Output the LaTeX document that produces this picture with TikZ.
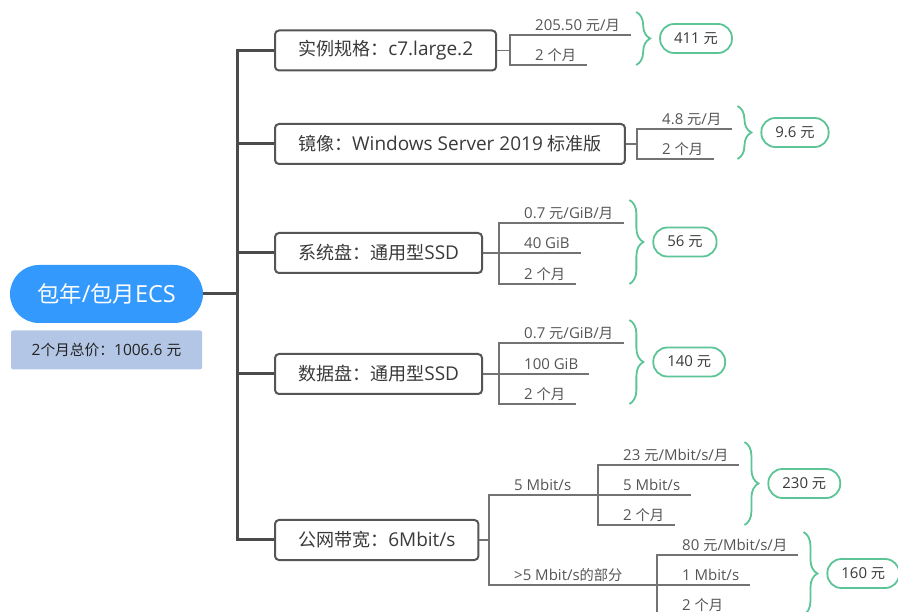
\documentclass[tikz,border=0pt]{standalone}
\usepackage{fontspec}
\setmainfont{Open Sans}
\newfontfamily\latinfont{Open Sans}
\newfontfamily\cjkfont{Noto Sans CJK SC}[Scale=0.95]
\usepackage{tikz}
\usetikzlibrary{positioning, decorations.pathreplacing}
% CJK characters switch to the CJK face, Latin ones switch back
\XeTeXinterchartokenstate=1
\chardef\cjkclass=7
\newcount\cjkcnt
\cjkcnt="4E00
\loop
  \XeTeXcharclass\cjkcnt=\cjkclass
  \advance\cjkcnt by 1
\ifnum\cjkcnt<"A000 \repeat
\XeTeXcharclass"FF1A=\cjkclass
\XeTeXinterchartoks 0 \cjkclass={\cjkfont}
\XeTeXinterchartoks 4095 \cjkclass={\cjkfont}
\XeTeXinterchartoks \cjkclass 0={\latinfont}
\XeTeXinterchartoks \cjkclass 4095={\latinfont}
\definecolor{rootblue}{RGB}{52, 153, 252}
\definecolor{sumfill}{RGB}{180, 198, 230}
\definecolor{sumtext}{RGB}{34, 34, 34}
\definecolor{spinegray}{RGB}{75, 75, 75}
\definecolor{boxgray}{RGB}{85, 85, 85}
\definecolor{topictext}{RGB}{58, 58, 58}
\definecolor{twiggray}{RGB}{115, 115, 115}
\definecolor{leaftext}{RGB}{85, 85, 85}
\definecolor{sumgreen}{RGB}{92, 196, 150}

\begin{document}
\begin{tikzpicture}[
		x=1pt, y=-1pt,
		rootpill/.style={rectangle, fill=rootblue, text=white, rounded corners=29pt, minimum width=193pt, minimum height=58pt, inner sep=0pt, font=\fontsize{23.5}{28}\selectfont},
		sumbox/.style={rectangle, fill=sumfill, text=sumtext, rounded corners=2pt, minimum width=191pt, minimum height=39pt, inner sep=0pt, font=\fontsize{15.5}{18}\selectfont},
		topic/.style={rectangle, draw=boxgray, fill=white, line width=2pt, rounded corners=4pt, minimum height=40pt, inner xsep=23pt, anchor=west, text=topictext, font=\fontsize{19}{22}\selectfont},
		leaf/.style={anchor=south west, inner xsep=11pt, inner ysep=1pt, text depth=3pt, text=leaftext, font=\fontsize{15}{18}\selectfont},
		sumpill/.style={rectangle, draw=sumgreen, fill=white, line width=1.8pt, rounded corners=14pt, minimum height=29pt, inner xsep=14pt, text=topictext, font=\fontsize{15}{18}\selectfont},
		trunk/.style={draw=spinegray, line width=3pt},
		twig/.style={draw=twiggray, line width=1.3pt},
		pricebrace/.style={draw=sumgreen, line width=1.8pt, decorate, decoration={brace, amplitude=14pt}}
		]
		\useasboundingbox (0,0) rectangle (898,612);
		\clip (0,0) rectangle (898,612);

		\node[rootpill] (root) at (106.5,294) {包年/包月ECS};
		\node[sumbox, below=7pt of root] (total) {2个月总价：1006.6 元};

		\node[topic] (spec) at (274,50.5) {实例规格：c7.large.2};
		\node[topic] (image) at (274,144) {镜像：Windows Server 2019 标准版};
		\node[topic] (sysdisk) at (274,253) {系统盘：通用型SSD};
		\node[topic] (datadisk) at (274,374) {数据盘：通用型SSD};
		\node[topic] (bw) at (274,540) {公网带宽：6Mbit/s};

		\coordinate (fork) at (237,294);
		\draw[trunk] (root.east) -- (fork);
		\draw[trunk] (fork) |- (spec.west);
		\draw[trunk] (fork) |- (image.west);
		\draw[trunk] (fork) |- (sysdisk.west);
		\draw[trunk] (fork) |- (datadisk.west);
		\draw[trunk] (fork) |- (bw.west);

		% instance
		\coordinate (specj) at (510,50.5);
		\node[leaf] (spec1) at (524,35) {205.50 元/月};
		\node[leaf] (spec2) at (524,65) {2 个月};
		\draw[twig] (spec.east) -- (specj);
		\draw[twig] (specj) |- (spec1.south east);
		\draw[twig] (specj) |- (spec2.south east);
		\coordinate (specbt) at ([shift={(5pt,23pt)}]spec1.south east);
		\coordinate (specbb) at (specbt |- spec2.south);
		\draw[pricebrace] (specbt) -- (specbb);
		\path (specbt) -- (specbb) node[sumpill, midway, right=23pt] (specsum) {411 元};

		% image
		\coordinate (imagej) at (637,144);
		\node[leaf] (image1) at (651,129) {4.8 元/月};
		\node[leaf] (image2) at (651,159) {2 个月};
		\draw[twig] (image.east) -- (imagej);
		\draw[twig] (imagej) |- (image1.south east);
		\draw[twig] (imagej) |- (image2.south east);
		\coordinate (imagebt) at ([shift={(5pt,23pt)}]image1.south east);
		\coordinate (imagebb) at (imagebt |- image2.south);
		\draw[pricebrace] (imagebt) -- (imagebb);
		\path (imagebt) -- (imagebb) node[sumpill, midway, right=23pt] (imagesum) {9.6 元};

		% system disk
		\coordinate (sysj) at (499,253);
		\node[leaf] (sys1) at (513,223) {0.7 元/GiB/月};
		\node[leaf] (sys2) at (513,253) {40 GiB};
		\node[leaf] (sys3) at (513,284) {2 个月};
		\draw[twig] (sysdisk.east) -- (sysj);
		\draw[twig] (sysj) |- (sys1.south east);
		\draw[twig] (sysj) |- (sys2.south east);
		\draw[twig] (sysj) |- (sys3.south east);
		\coordinate (sysbt) at ([shift={(5pt,23pt)}]sys1.south east);
		\coordinate (sysbb) at (sysbt |- sys3.south);
		\draw[pricebrace] (sysbt) -- (sysbb);
		\path (sysbt) -- (sysbb) node[sumpill, midway, right=23pt] (syssum) {56 元};

		% data disk
		\coordinate (dataj) at (499,374);
		\node[leaf] (data1) at (513,343) {0.7 元/GiB/月};
		\node[leaf] (data2) at (513,374) {100 GiB};
		\node[leaf] (data3) at (513,404) {2 个月};
		\draw[twig] (datadisk.east) -- (dataj);
		\draw[twig] (dataj) |- (data1.south east);
		\draw[twig] (dataj) |- (data2.south east);
		\draw[twig] (dataj) |- (data3.south east);
		\coordinate (databt) at ([shift={(5pt,23pt)}]data1.south east);
		\coordinate (databb) at (databt |- data3.south);
		\draw[pricebrace] (databt) -- (databb);
		\path (databt) -- (databb) node[sumpill, midway, right=23pt] (datasum) {140 元};

		% bandwidth
		\coordinate (bwj) at (489,540);
		\coordinate (basej) at (598,495);
		\coordinate (extraj) at (657,585);
		\node[leaf] (base) at (503,495) {5 Mbit/s};
		\node[leaf] (extra) at (503,585) {>5 Mbit/s的部分};
		\draw[twig] (bw.east) -- (bwj);
		\draw[twig] (bwj) |- (basej);
		\draw[twig] (bwj) |- (extraj);

		\node[leaf] (base1) at (612,465) {23 元/Mbit/s/月};
		\node[leaf] (base2) at (612,495) {5 Mbit/s};
		\node[leaf] (base3) at (612,525) {2 个月};
		\draw[twig] (basej) |- (base1.south east);
		\draw[twig] (basej) |- (base2.south east);
		\draw[twig] (basej) |- (base3.south east);
		\coordinate (basebt) at ([shift={(5pt,23pt)}]base1.south east);
		\coordinate (basebb) at (basebt |- base3.south);
		\draw[pricebrace] (basebt) -- (basebb);
		\path (basebt) -- (basebb) node[sumpill, midway, right=23pt] (basesum) {230 元};

		\node[leaf] (extra1) at (671,555) {80 元/Mbit/s/月};
		\node[leaf] (extra2) at (671,585) {1 Mbit/s};
		\node[leaf] (extra3) at (671,615) {2 个月};
		\draw[twig] (extraj) |- (extra1.south east);
		\draw[twig] (extraj) |- (extra2.south east);
		\draw[twig] (extraj) |- (extra3.south east);
		\coordinate (extrabt) at ([shift={(5pt,23pt)}]extra1.south east);
		\coordinate (extrabb) at (extrabt |- extra3.south);
		\draw[pricebrace] (extrabt) -- (extrabb);
		\path (extrabt) -- (extrabb) node[sumpill, midway, right=23pt] (extrasum) {160 元};
	\end{tikzpicture}
\end{document}
